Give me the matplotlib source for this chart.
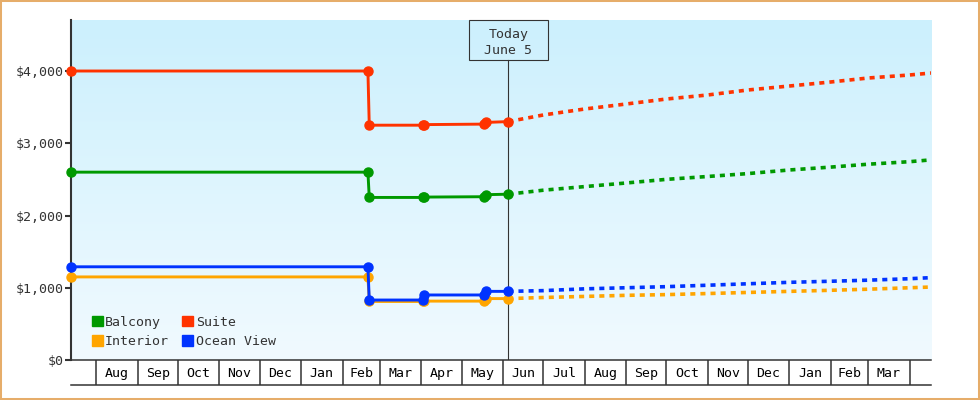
import datetime as dt
import numpy as np
import matplotlib
matplotlib.use("Agg")
import matplotlib.pyplot as plt
import matplotlib.dates as mdates
import matplotlib.transforms as mtransforms
from matplotlib.patches import Patch, Rectangle

plt.rcParams['font.family'] = ['DejaVu Sans Mono']
plt.rcParams['font.size'] = 9.5

D = dt.date
x_start = D(2024, 7, 13)
x_end = D(2026, 4, 17)
today = D(2025, 6, 5)

# price history (dates where the price changed)
hist_dates = [D(2024, 7, 13), D(2025, 2, 20), D(2025, 2, 21), D(2025, 4, 2), D(2025, 4, 3),
              D(2025, 5, 18), D(2025, 5, 19), D(2025, 6, 5)]
suite_hist = [4000, 4000, 3250, 3250, 3258, 3265, 3288, 3300]
balcony_hist = [2600, 2600, 2250, 2250, 2255, 2260, 2288, 2295]
ocean_hist = [1290, 1290, 830, 830, 900, 900, 950, 950]
interior_hist = [1150, 1150, 810, 810, 815, 815, 850, 850]

# forecast from today
fc_dates = [D(2025, 6, 5), D(2025, 7, 1), D(2025, 8, 1), D(2025, 9, 1), D(2025, 10, 1),
            D(2025, 11, 1), D(2025, 12, 1), D(2026, 1, 1), D(2026, 2, 1), D(2026, 3, 1),
            D(2026, 4, 1), D(2026, 4, 17)]
suite_fc = [3300, 3391, 3474, 3543, 3612, 3668, 3737, 3792, 3848, 3903, 3945, 3972]
balcony_fc = [2295, 2350, 2400, 2450, 2500, 2540, 2580, 2630, 2670, 2710, 2745, 2770]
ocean_fc = [950, 960, 985, 1000, 1015, 1035, 1055, 1075, 1090, 1105, 1125, 1140]
interior_fc = [850, 865, 880, 895, 905, 920, 935, 950, 965, 980, 1000, 1010]

series = [
    ("Interior", "#FFA500", interior_hist, interior_fc),
    ("Ocean View", "#0033FF", ocean_hist, ocean_fc),
    ("Balcony", "#009900", balcony_hist, balcony_fc),
    ("Suite", "#FF3300", suite_hist, suite_fc),
]

month_starts = [D(2024, m, 1) for m in range(8, 13)] + [D(2025, m, 1) for m in range(1, 13)] + \
               [D(2026, m, 1) for m in range(1, 5)]
month_names = ["Aug", "Sep", "Oct", "Nov", "Dec", "Jan", "Feb", "Mar", "Apr", "May", "Jun",
               "Jul", "Aug", "Sep", "Oct", "Nov", "Dec", "Jan", "Feb", "Mar"]

ink = "#333333"

fig = plt.figure(figsize=(9.8, 4), dpi=100)
ax = fig.add_axes([71 / 980, 40 / 400, 860 / 980, 340 / 400])
ax_box = fig.add_axes([71 / 980, 15 / 400, 860 / 980, 25 / 400])

# gradient background, darker blue at the top
grad = np.linspace(0, 1, 256).reshape(-1, 1)
cmap = matplotlib.colors.LinearSegmentedColormap.from_list("bg", ["#CCF0FD", "#F1FAFF"])
ax.imshow(grad, cmap=cmap, aspect="auto", extent=[0, 1, 0, 1], origin="upper",
          transform=ax.transAxes, zorder=0)

for name, color, hist, fc in series:
    ax.plot(hist_dates, hist, color=color, lw=2.1, marker="o", ms=6.5, clip_on=False, zorder=3)
    ax.plot(fc_dates, fc, color=color, lw=2.6, ls=(0, (1.4, 1.4)), zorder=3)

ax.set_xlim(x_start, x_end)
ax.set_ylim(0, 4706)
ax.set_yticks([0, 1000, 2000, 3000, 4000])
ax.set_yticklabels(["$0", "$1,000", "$2,000", "$3,000", "$4,000"])
ax.tick_params(axis="y", length=4.5, width=1.5, color=ink, labelcolor=ink, pad=1)
ax.set_xticks([])
for s in ["top", "right", "bottom"]:
    ax.spines[s].set_visible(False)
ax.spines["left"].set_color(ink)
ax.spines["left"].set_linewidth(1.5)

# today marker
box_frac = (360 - 60) / 340
ax.axvline(today, ymin=0, ymax=box_frac, color=ink, lw=0.8, zorder=2)
trans = mtransforms.blended_transform_factory(ax.transData, ax.transAxes)
t0 = mdates.date2num(today)
ax.add_patch(Rectangle((t0 - 29.5, box_frac), 59, 1 - box_frac, transform=trans,
                       fill=False, ec=ink, lw=0.8, clip_on=False, zorder=2))
ax.text(t0, (1 + box_frac) / 2 - 0.006, "Today\nJune 5", transform=trans, ha="center",
        va="center", color=ink, linespacing=1.3)

handles = [Patch(color="#009900", label="Balcony"), Patch(color="#FFA500", label="Interior"),
           Patch(color="#FF3300", label="Suite"), Patch(color="#0033FF", label="Ocean View")]
leg = ax.legend(handles=handles, ncol=2, loc="lower left", bbox_to_anchor=(0.024, 0.035),
                borderaxespad=0, frameon=False, handlelength=0.83, handleheight=0.83,
                handletextpad=0.2, columnspacing=1.0, labelspacing=0.5, borderpad=0)
for t in leg.get_texts():
    t.set_color(ink)

# month boxes under the plot
ax_box.set_xlim(x_start, x_end)
ax_box.set_ylim(0, 1)
ax_box.vlines(month_starts, 0, 1, color=ink, lw=1.1)
mids = [mdates.num2date((mdates.date2num(a) + mdates.date2num(b)) / 2)
        for a, b in zip(month_starts[:-1], month_starts[1:])]
for m, name in zip(mids, month_names):
    ax_box.text(m, 0.45, name, ha="center", va="center", color="black")
ax_box.set_xticks([])
ax_box.set_yticks([])
ax_box.patch.set_alpha(0)
for s in ["left", "right"]:
    ax_box.spines[s].set_visible(False)
for s in ["top", "bottom"]:
    ax_box.spines[s].set_color(ink)
    ax_box.spines[s].set_linewidth(1.1)

fig.patches.append(Rectangle((0, 0), 1, 1, transform=fig.transFigure, fill=False,
                             ec="#E6AD6A", lw=2.9))

fig.savefig("out.png", dpi=100)
